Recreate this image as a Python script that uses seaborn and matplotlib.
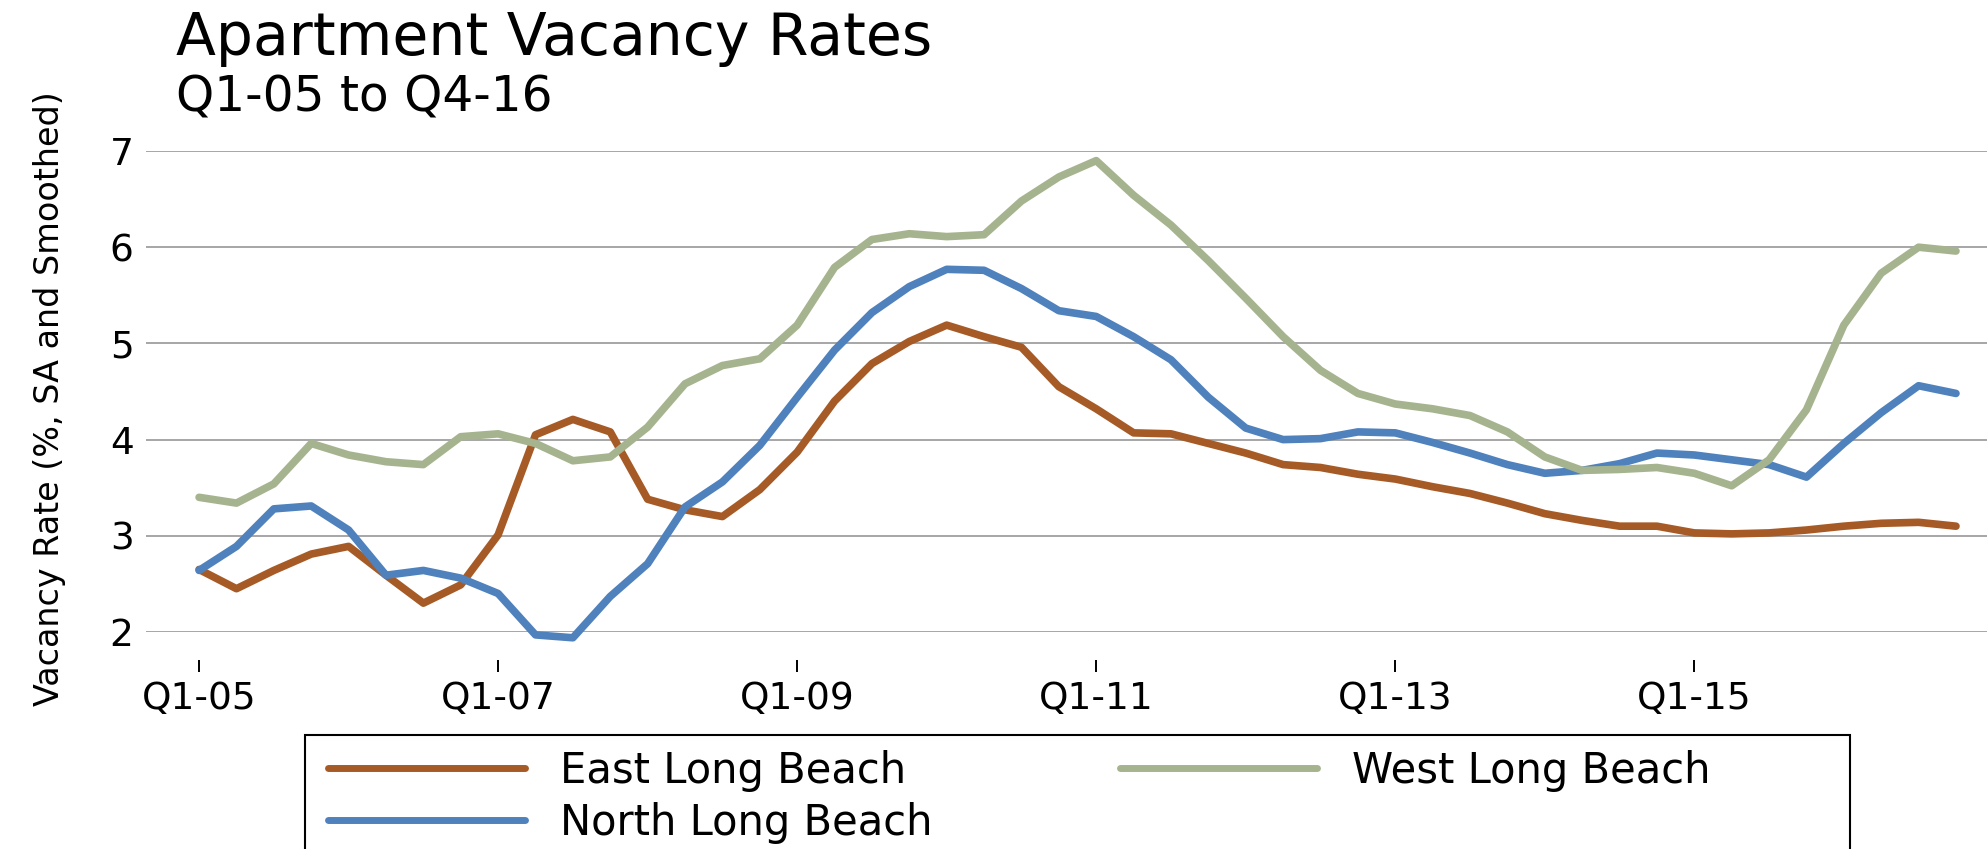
import matplotlib
matplotlib.use("Agg")
import matplotlib.pyplot as plt
from matplotlib.patches import Rectangle
import seaborn as sns
import pandas as pd

# quarters Q1-05 .. Q4-16
quarters = [f"Q{q}-{y:02d}" for y in range(5, 17) for q in range(1, 5)]

east = [2.65, 2.45, 2.64, 2.81, 2.89, 2.59, 2.30, 2.49, 3.01, 4.05, 4.21, 4.08,
        3.38, 3.27, 3.20, 3.48, 3.87, 4.40, 4.79, 5.02, 5.19, 5.07, 4.96, 4.55,
        4.32, 4.07, 4.06, 3.96, 3.86, 3.74, 3.71, 3.64, 3.59, 3.51, 3.44, 3.34,
        3.23, 3.16, 3.10, 3.10, 3.03, 3.02, 3.03, 3.06, 3.10, 3.13, 3.14, 3.10]
north = [2.64, 2.89, 3.28, 3.31, 3.06, 2.59, 2.64, 2.56, 2.40, 1.97, 1.94, 2.37,
         2.71, 3.30, 3.56, 3.94, 4.44, 4.93, 5.32, 5.59, 5.77, 5.76, 5.57, 5.34,
         5.28, 5.07, 4.83, 4.44, 4.12, 4.00, 4.01, 4.08, 4.07, 3.97, 3.86, 3.74,
         3.65, 3.68, 3.75, 3.86, 3.84, 3.79, 3.74, 3.61, 3.96, 4.28, 4.56, 4.48]
west = [3.40, 3.34, 3.54, 3.96, 3.84, 3.77, 3.74, 4.03, 4.06, 3.96, 3.78, 3.82,
        4.13, 4.58, 4.77, 4.84, 5.19, 5.79, 6.08, 6.14, 6.11, 6.13, 6.48, 6.73,
        6.90, 6.54, 6.23, 5.86, 5.47, 5.07, 4.72, 4.48, 4.37, 4.32, 4.25, 4.08,
        3.82, 3.68, 3.69, 3.71, 3.65, 3.52, 3.79, 4.31, 5.19, 5.73, 6.00, 5.96]

regions = ["East Long Beach", "North Long Beach", "West Long Beach"]
colors = {"East Long Beach": "#A65B27",
          "North Long Beach": "#4F81BD",
          "West Long Beach": "#A5B48E"}

# long form table for seaborn
df = pd.DataFrame({
    "idx": list(range(len(quarters))) * 3,
    "rate": east + north + west,
    "region": [r for r in regions for _ in quarters],
})

sns.set_style("white")
plt.rcParams["font.family"] = ["DejaVu Sans"]
plt.rcParams["text.color"] = "black"
plt.rcParams["xtick.color"] = "black"
plt.rcParams["ytick.color"] = "black"
plt.rcParams["axes.labelcolor"] = "black"

W, H = 1987, 849
fig = plt.figure(figsize=(W / 100, H / 100), dpi=100)
ax = fig.add_axes([146 / W, (H - 632) / H, (W - 146) / W, 481 / H])

sns.lineplot(data=df, x="idx", y="rate", hue="region", hue_order=regions,
             palette=colors, linewidth=5.5, ax=ax, legend=False, clip_on=False,
             solid_capstyle="round", solid_joinstyle="round")

ax.set_xlim(-1.42, 47.83)
ax.set_ylim(2, 7)
ax.set_yticks([2, 3, 4, 5, 6, 7])
ax.grid(axis="y", color="#a6a6a6", linewidth=1.4)
ax.grid(axis="x", visible=False)
ax.set_axisbelow(True)

for s in ["top", "right", "left"]:
    ax.spines[s].set_visible(False)
# ticks sit below the bottom gridline, detached from it
ax.spines["bottom"].set_position(("outward", 20))
ax.spines["bottom"].set_visible(False)

tick_pos = list(range(0, len(quarters), 8))
ax.set_xticks(tick_pos)
ax.set_xticklabels([quarters[i] for i in tick_pos])
ax.tick_params(axis="x", length=8.6, width=1.4, pad=7, labelsize=27,
               direction="out", bottom=True)
ax.tick_params(axis="y", length=0, pad=9, labelsize=27)

ax.set_xlabel("")
ax.set_ylabel("")
fig.text(50 / W, (H - 399) / H, "Vacancy Rate (%, SA and Smoothed)",
         fontsize=24, rotation=90, ha="center", va="center")

fig.text(176 / W, (H - 55) / H, "Apartment Vacancy Rates",
         fontsize=42, ha="left", va="baseline")
fig.text(176 / W, (H - 112) / H, "Q1-05 to Q4-16",
         fontsize=35, ha="left", va="baseline")

# legend: East / North in the first column, West in the second
handles = {r: plt.Line2D([], [], color=colors[r], linewidth=5) for r in regions}
leg_kw = dict(loc="upper left", bbox_transform=fig.transFigure, fontsize=30,
              frameon=False, handlelength=4.72, handletextpad=0.84,
              borderpad=0.36, labelspacing=0.23, borderaxespad=0)
leg1 = fig.legend([handles[r] for r in regions[:2]], regions[:2],
                  bbox_to_anchor=(313 / W, (H - 735) / H), **leg_kw)
leg2 = fig.legend([handles[regions[2]]], regions[2:],
                  bbox_to_anchor=(1105 / W, (H - 735) / H), **leg_kw)

frame = Rectangle((305 / W, -0.05), (1850 - 305) / W, (H - 735) / H + 0.05,
                  transform=fig.transFigure, fill=False, edgecolor="black",
                  linewidth=1.5, clip_on=False)
fig.add_artist(frame)

fig.savefig("out.png", dpi=100)
